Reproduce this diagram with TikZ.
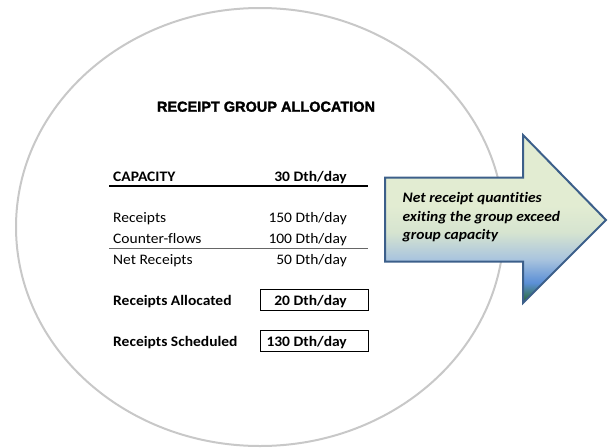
\documentclass[tikz,border=0pt]{standalone}
\usepackage{fontspec}
\setmainfont{Carlito}[FakeStretch=1.07,Ligatures=NoCommon]
\newfontfamily\titlefont{Liberation Sans}[BoldFeatures={FakeBold=2}]
\newcommand\txtsize{\fontsize{14.5}{17}\selectfont}

\definecolor{ringgray}{HTML}{C8C8C8}
\definecolor{arrowedge}{HTML}{3C5F8A}
\definecolor{arrowlight}{HTML}{E2ECD2}
\definecolor{arrowpale}{HTML}{D6E4D0}
\definecolor{arrowmid}{HTML}{A9C4DE}
\definecolor{arrowblue}{HTML}{5B8FD6}
\definecolor{arrowgreen}{HTML}{2E6E45}

\pgfdeclareverticalshading{arrowfill}{100bp}{color(0bp)=(arrowgreen); color(26bp)=(arrowgreen); color(31bp)=(arrowblue); color(38bp)=(arrowmid); color(46bp)=(arrowpale); color(54bp)=(arrowlight); color(100bp)=(arrowlight)}

\tikzset{
  lbl/.style={anchor=base west, inner sep=0pt, font=\txtsize},
  val/.style={anchor=base east, inner sep=0pt, font=\txtsize},
  boldlbl/.style={lbl, font=\txtsize\bfseries},
  boldval/.style={val, font=\txtsize\bfseries},
  valbox/.style={draw, line width=1pt, minimum width=108pt, minimum height=21pt, inner sep=0pt}
}

\begin{document}
\begin{tikzpicture}[x=1pt,y=-1pt]
\useasboundingbox (0,0) rectangle (610,447);

% Group ring
\draw[ringgray,line width=2pt] (260,227) ellipse [x radius=244, y radius=219];

% Title
\node[anchor=base,inner sep=0pt,font=\titlefont\bfseries\fontsize{14.5}{17}\selectfont] (title) at (266,111.7) {RECEIPT GROUP ALLOCATION};

% Capacity
\node[boldlbl] (cap) at (113,181) {CAPACITY};
\node[boldval] (capval) at (347,181) {30 Dth/day};
\draw[line width=2pt] (109,186) -- (368,186);

% Receipts and counter-flows
\node[lbl] (rec) at (113,222.7) {Receipts};
\node[val] (recval) at (347,222.7) {150 Dth/day};
\node[lbl] (cf) at (113,243.3) {Counter-flows};
\node[val] (cfval) at (347,243.3) {100 Dth/day};
\draw[black!60,line width=1.3pt] (109,248.3) -- (368,248.3);
\node[lbl] (net) at (113,264) {Net Receipts};
\node[val] (netval) at (347,264) {50 Dth/day};

% Results
\node[boldlbl] (alloc) at (113,305.3) {Receipts Allocated};
\node[valbox] (allocbox) at (314,300) {};
\node[boldval] (allocval) at (347,305.3) {20 Dth/day};
\node[boldlbl] (sched) at (113,346.7) {Receipts Scheduled};
\node[valbox] (schedbox) at (314,341) {};
\node[boldval] (schedval) at (347,346.7) {130 Dth/day};

% Exit arrow
\shade[shading=arrowfill] (385,177.5) -- (523,177.5) -- (523,135) -- (606,220) -- (523,303) -- (523,261.5) -- (385,261.5) -- cycle;
\draw[arrowedge,line width=2pt,line join=miter] (385,177.5) -- (523,177.5) -- (523,135) -- (606,220) -- (523,303) -- (523,261.5) -- (385,261.5) -- cycle;
\node[anchor=north west,align=left,inner sep=0pt,font=\bfseries\itshape\fontsize{14.5}{18.8}\selectfont] (note) at (402.5,192) {Net receipt quantities\\exiting the group exceed\\group capacity};
\end{tikzpicture}
\end{document}
